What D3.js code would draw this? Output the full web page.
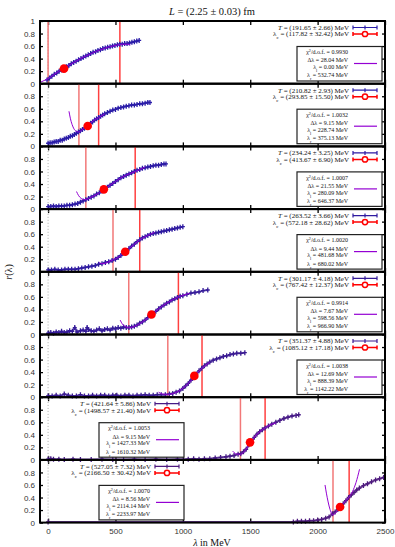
<!DOCTYPE html>
<html>
<head>
<meta charset="utf-8">
<script src="https://cdn.jsdelivr.net/npm/d3@7"></script>
<style>
  body { margin: 0; background: #fff; }
  svg { display: block; }
  .tick text { font-family: "Liberation Sans", Arial, sans-serif; font-size: 8px; fill: #333; }
  .serif { font-family: "Liberation Serif", "DejaVu Serif", serif; fill: #111; }
</style>
</head>
<body>
<svg id="chart" width="395" height="547"></svg>
<script>
// fit results per panel
const tempT   = [191.65, 210.82, 234.24, 263.52, 301.17, 351.37, 421.64, 527.05];
const tempErr = [2.66, 2.93, 3.25, 3.66, 4.18, 4.88, 5.86, 7.32];
const lamC    = [117.82, 293.85, 413.67, 572.18, 767.42, 1085.12, 1498.57, 2166.50];
const lamCErr = [32.42, 15.50, 6.90, 28.62, 12.37, 17.18, 21.40, 30.42];
const rAtC    = [0.24, 0.325, 0.315, 0.32, 0.32, 0.34, 0.28, 0.25];
const chi2    = [0.9930, 1.0032, 1.0007, 1.0020, 0.9914, 1.0038, 1.0053, 1.0070];
const dLam    = [28.04, 9.15, 21.55, 9.44, 7.67, 12.69, 9.15, 8.56];
const lamL    = [0.00, 228.74, 280.09, 481.68, 598.56, 888.39, 1427.33, 2114.14];
const lamR    = [532.74, 375.13, 646.37, 680.02, 966.90, 1142.22, 1610.32, 2233.97];
const colors  = ['#2a1ca8', '#2a1ca8', '#2c1aa4', '#2e1aa0', '#341a98', '#3a1a92', '#461a86', '#4e1a7e'];

const xTicks = [0, 500, 1000, 1500, 2000, 2500];
const yTicksFirst = [0, 0.2, 0.4, 0.6, 0.8, 1];
const yTicks = [0, 0.2, 0.4, 0.6, 0.8];

// r(lambda) measurements, [lambda, r]
const data1 = [[-8,0.06],[10,0.09],[28,0.12],[46,0.15],[64,0.17],[82,0.20],[100,0.22],[118,0.25],[136,0.27],[154,0.29],[172,0.32],[190,0.34],[208,0.36],[226,0.38],[244,0.40],[262,0.42],[280,0.44],[298,0.46],[316,0.48],[334,0.50],[352,0.51],[370,0.53],[388,0.54],[406,0.56],[424,0.57],[442,0.58],[460,0.59],[478,0.60],[496,0.61],[514,0.62],[532,0.63],[550,0.63],[568,0.64],[586,0.64],[604,0.65],[622,0.66],[640,0.67],[658,0.68],[676,0.69]];
const data2 = [[0,0.05],[15,0.06],[30,0.06],[45,0.07],[60,0.08],[75,0.08],[90,0.10],[105,0.10],[120,0.12],[135,0.13],[150,0.14],[165,0.16],[180,0.17],[195,0.19],[210,0.21],[225,0.23],[240,0.25],[255,0.27],[270,0.29],[285,0.31],[300,0.34],[315,0.37],[330,0.39],[345,0.42],[360,0.44],[375,0.46],[390,0.48],[405,0.50],[420,0.52],[440,0.54],[460,0.56],[480,0.58],[500,0.59],[520,0.61],[540,0.62],[560,0.63],[580,0.64],[600,0.65],[620,0.66],[640,0.66],[660,0.67],[680,0.68],[700,0.68],[720,0.69],[740,0.70],[756,0.70]];
const data3 = [[0,0.04],[20,0.04],[40,0.05],[60,0.04],[80,0.05],[100,0.05],[120,0.05],[140,0.06],[160,0.06],[180,0.07],[200,0.08],[220,0.09],[240,0.11],[260,0.13],[280,0.15],[300,0.17],[320,0.19],[340,0.21],[360,0.24],[380,0.26],[400,0.29],[420,0.32],[440,0.35],[460,0.38],[480,0.41],[500,0.44],[520,0.47],[540,0.50],[560,0.52],[580,0.54],[600,0.56],[620,0.58],[640,0.60],[660,0.62],[680,0.63],[700,0.65],[720,0.66],[740,0.67],[760,0.68],[780,0.69],[800,0.70],[820,0.70],[840,0.71],[860,0.72],[875,0.72]];
const data4 = [[0,0.03],[25,0.03],[50,0.04],[75,0.03],[100,0.03],[125,0.04],[150,0.04],[175,0.04],[200,0.04],[225,0.05],[250,0.06],[275,0.07],[300,0.08],[325,0.09],[350,0.10],[375,0.12],[400,0.13],[425,0.15],[450,0.16],[475,0.18],[500,0.20],[520,0.23],[540,0.26],[560,0.30],[580,0.33],[600,0.37],[620,0.41],[640,0.44],[660,0.48],[680,0.51],[700,0.54],[720,0.56],[740,0.58],[760,0.60],[780,0.61],[800,0.62],[820,0.63],[840,0.64],[860,0.65],[880,0.66],[900,0.67],[920,0.68],[940,0.69],[960,0.70],[980,0.71],[1000,0.72]];
const data5 = [[0,0.02],[20,0.03],[40,0.02],[60,0.04],[80,0.03],[100,0.05],[120,0.03],[140,0.04],[160,0.06],[180,0.05],[198,0.11],[215,0.04],[240,0.06],[260,0.07],[280,0.05],[290,0.11],[300,0.08],[320,0.06],[340,0.05],[360,0.07],[380,0.09],[400,0.06],[420,0.08],[440,0.09],[460,0.07],[480,0.10],[500,0.09],[520,0.11],[540,0.10],[560,0.12],[580,0.11],[600,0.11],[620,0.12],[640,0.13],[660,0.15],[680,0.18],[700,0.20],[720,0.23],[740,0.27],[760,0.30],[780,0.34],[800,0.37],[820,0.41],[840,0.44],[860,0.47],[880,0.50],[900,0.52],[920,0.55],[940,0.57],[960,0.59],[980,0.61],[1000,0.62],[1030,0.64],[1060,0.66],[1090,0.67],[1120,0.68],[1150,0.70],[1185,0.71]];
const data6 = [[0,0.02],[30,0.02],[60,0.03],[90,0.02],[120,0.05],[150,0.03],[180,0.02],[210,0.02],[240,0.04],[270,0.02],[300,0.02],[330,0.03],[360,0.02],[390,0.03],[420,0.03],[450,0.02],[480,0.03],[510,0.03],[540,0.02],[570,0.03],[600,0.03],[630,0.02],[660,0.03],[690,0.03],[720,0.04],[750,0.03],[780,0.03],[810,0.04],[840,0.04],[870,0.04],[900,0.05],[925,0.06],[950,0.08],[975,0.10],[1000,0.14],[1020,0.18],[1040,0.22],[1060,0.27],[1080,0.31],[1100,0.37],[1120,0.42],[1140,0.46],[1160,0.50],[1180,0.53],[1200,0.56],[1225,0.59],[1250,0.61],[1275,0.63],[1300,0.65],[1325,0.66],[1350,0.68],[1375,0.69],[1400,0.70],[1430,0.70],[1460,0.71]];
const data7 = [[0,0.01],[20,0.02],[40,0.01],[80,0.01],[120,0.005],[185,0.01],[240,0.005],[320,0.005],[400,0.01],[480,0.005],[560,0.005],[640,0.01],[720,0.005],[800,0.01],[880,0.005],[960,0.01],[1040,0.01],[1080,0.02],[1120,0.01],[1160,0.02],[1200,0.02],[1240,0.03],[1280,0.04],[1320,0.05],[1350,0.06],[1380,0.07],[1410,0.09],[1430,0.10],[1450,0.13],[1470,0.17],[1490,0.24],[1510,0.30],[1530,0.36],[1550,0.41],[1570,0.45],[1590,0.48],[1610,0.51],[1635,0.54],[1660,0.57],[1690,0.60],[1720,0.63],[1750,0.66],[1780,0.68],[1810,0.70],[1840,0.71],[1860,0.72]];
const data8 = [[0,0.01],[1820,0.01],[1850,0.02],[1880,0.02],[1910,0.02],[1940,0.03],[1970,0.03],[2000,0.04],[2030,0.05],[2060,0.07],[2085,0.09],[2110,0.14],[2130,0.17],[2150,0.21],[2170,0.25],[2190,0.30],[2210,0.35],[2230,0.40],[2250,0.44],[2270,0.48],[2290,0.52],[2310,0.55],[2340,0.59],[2370,0.62],[2400,0.65],[2430,0.68],[2460,0.70],[2490,0.72]];

// fitted curves, [lambda, r]
const fit1 = [[-60,0.02],[-30,0.05],[0,0.08],[40,0.14],[80,0.20],[120,0.25],[160,0.30],[200,0.35],[240,0.40],[280,0.44],[320,0.48],[360,0.52],[400,0.55],[440,0.58],[480,0.60],[520,0.62],[560,0.63],[590,0.63],[610,0.62]];
const fit2 = [[155,0.56],[165,0.45],[178,0.35],[192,0.28],[210,0.24],[228,0.23],[250,0.26],[275,0.30],[294,0.33],[320,0.38],[350,0.43],[375,0.46],[400,0.49],[420,0.52]];
const fit3 = [[211,0.28],[225,0.22],[245,0.17],[265,0.15],[285,0.155],[310,0.18],[340,0.21],[380,0.26],[414,0.31],[460,0.38],[500,0.44],[550,0.51],[600,0.56],[646,0.60],[690,0.64],[720,0.67]];
const fit4 = [[380,0.15],[400,0.13],[430,0.14],[460,0.17],[482,0.19],[520,0.23],[560,0.30],[600,0.37],[640,0.44],[680,0.51],[720,0.56],[760,0.60],[790,0.63]];
const fit5 = [[535,0.23],[550,0.17],[570,0.13],[598,0.11],[630,0.12],[670,0.16],[720,0.23],[767,0.31],[820,0.41],[880,0.50],[930,0.56],[967,0.60],[1010,0.63],[1050,0.66]];
const fit6 = [[820,0.08],[850,0.05],[888,0.045],[930,0.06],[970,0.10],[1010,0.16],[1050,0.24],[1085,0.32],[1120,0.42],[1142,0.46],[1170,0.51],[1200,0.56]];
const fit7 = [[1370,0.14],[1390,0.10],[1410,0.09],[1427,0.09],[1450,0.12],[1475,0.19],[1499,0.27],[1530,0.36],[1560,0.43],[1610,0.51],[1650,0.56],[1690,0.59]];
const fit8 = [[2055,0.60],[2065,0.47],[2078,0.33],[2092,0.21],[2105,0.14],[2114,0.12],[2135,0.16],[2166,0.24],[2200,0.33],[2234,0.41],[2260,0.50],[2285,0.64],[2311,0.85]];

const datasets = [data1, data2, data3, data4, data5, data6, data7, data8];
const fits = [fit1, fit2, fit3, fit4, fit5, fit6, fit7, fit8];

const svg = d3.select('#chart');
const plotLeft = 40, plotRight = 385, plotTop = 21, ph = 62.7;
const fitColor = '#9400d3';
const f2 = d3.format('.2f'), f4 = d3.format('.4f');

const x = d3.scaleLinear().domain([-60, 2500]).range([plotLeft, plotRight]);

function rich(sel, parts) {
  parts.forEach(([t, k]) => {
    const s = sel.append('tspan').text(t);
    if (k === 'i') s.attr('font-style', 'italic');
    if (k === 'sub') s.attr('baseline-shift', 'sub').attr('font-size', '70%');
    if (k === 'sup') s.attr('baseline-shift', 'super').attr('font-size', '70%');
  });
}

datasets.forEach((data, i) => {
  const y = d3.scaleLinear().domain([0, 1]).range([plotTop + ph * (i + 1), plotTop + ph * i]);
  const g = svg.append('g');
  const col = colors[i];

  // axes, ticks pointing inward
  g.append('g').attr('transform', 'translate(0,' + y(0) + ')')
    .call(d3.axisBottom(x).tickValues(xTicks).tickSize(-4).tickPadding(6)
      .tickFormat(i === 7 ? d3.format('d') : ''));
  g.append('g').attr('transform', 'translate(0,' + y(1) + ')')
    .call(d3.axisTop(x).tickValues(xTicks).tickSize(-4).tickFormat(''));
  g.append('g').attr('transform', 'translate(' + plotLeft + ',0)')
    .call(d3.axisLeft(y).tickValues(i === 0 ? yTicksFirst : yTicks).tickSize(-3).tickPadding(5)
      .tickFormat(d => d3.format('~g')(d)));
  g.append('g').attr('transform', 'translate(' + plotRight + ',0)')
    .call(d3.axisRight(y).tickValues(yTicks).tickSize(-3).tickFormat(''));
  g.selectAll('.domain').remove();
  g.selectAll('.tick line').attr('stroke', '#000').attr('stroke-width', 1.3);

  // zero line
  g.append('line')
    .attr('x1', x(0)).attr('x2', x(0)).attr('y1', y(0)).attr('y2', y(1))
    .attr('stroke', '#aaa').attr('stroke-dasharray', '1,2');

  // lambda_l and lambda_r
  g.append('line')
    .attr('x1', x(lamL[i])).attr('x2', x(lamL[i])).attr('y1', y(0)).attr('y2', y(1))
    .attr('stroke', '#f27878').attr('stroke-width', 1.5);
  g.append('line')
    .attr('x1', x(lamR[i])).attr('x2', x(lamR[i])).attr('y1', y(0)).attr('y2', y(1))
    .attr('stroke', '#ff4040').attr('stroke-width', 1.5);

  // data band + crosses
  g.append('path').datum(data)
    .attr('fill', 'none').attr('stroke', col).attr('stroke-width', 2).attr('stroke-opacity', 0.85)
    .attr('d', d3.line().x(d => x(d[0])).y(d => y(d[1])));
  const pts = g.selectAll('.pt').data(data).enter().append('g')
    .attr('transform', d => 'translate(' + x(d[0]) + ',' + y(d[1]) + ')');
  pts.append('path').attr('d', 'M-2,0H2M0,-2.5V2.5')
    .attr('stroke', col).attr('stroke-width', 1.3);

  // fit
  g.append('path').datum(fits[i])
    .attr('fill', 'none').attr('stroke', fitColor).attr('stroke-width', 1)
    .attr('d', d3.line().curve(d3.curveMonotoneX).x(d => x(d[0])).y(d => y(d[1])));

  // lambda_c
  const cy = y(rAtC[i]);
  g.append('path')
    .attr('d', 'M' + x(lamC[i] - lamCErr[i]) + ',' + cy + 'H' + x(lamC[i] + lamCErr[i]))
    .attr('stroke', '#ff0000').attr('stroke-width', 1.5);
  g.append('circle').attr('cx', x(lamC[i])).attr('cy', cy).attr('r', 4.3).attr('fill', '#ff0000');

  // border
  g.append('rect')
    .attr('x', plotLeft).attr('y', y(1)).attr('width', plotRight - plotLeft).attr('height', y(0) - y(1))
    .attr('fill', 'none').attr('stroke', '#000').attr('stroke-width', 2);

  // legend
  const shift = lamC[i] > 1300 ? -198 : 0;
  const tx = 349 + shift, lx1 = 353 + shift, lx2 = 377 + shift;
  const t0 = y(1);

  const l1 = g.append('text').attr('class', 'serif').attr('x', tx).attr('y', t0 + 6.5)
    .attr('text-anchor', 'end').attr('dy', '0.35em').attr('font-size', 7);
  rich(l1, [['T', 'i'], [' = (' + f2(tempT[i]) + ' \u00b1 ' + f2(tempErr[i]) + ') MeV', '']]);
  g.append('path')
    .attr('d', 'M' + lx1 + ',' + (t0 + 6.5) + 'H' + lx2 +
      'M' + lx1 + ',' + (t0 + 4.5) + 'V' + (t0 + 8.5) +
      'M' + lx2 + ',' + (t0 + 4.5) + 'V' + (t0 + 8.5) +
      'M' + ((lx1 + lx2) / 2) + ',' + (t0 + 4.5) + 'V' + (t0 + 8.5))
    .attr('stroke', col).attr('stroke-width', 1.2).attr('fill', 'none');

  const l2 = g.append('text').attr('class', 'serif').attr('x', tx).attr('y', t0 + 13)
    .attr('text-anchor', 'end').attr('dy', '0.35em').attr('font-size', 7);
  rich(l2, [['\u03bb', ''], ['c', 'sub'], [' = (' + f2(lamC[i]) + ' \u00b1 ' + f2(lamCErr[i]) + ') MeV', '']]);
  g.append('path')
    .attr('d', 'M' + lx1 + ',' + (t0 + 13) + 'H' + lx2 +
      'M' + lx1 + ',' + (t0 + 11) + 'V' + (t0 + 15) +
      'M' + lx2 + ',' + (t0 + 11) + 'V' + (t0 + 15))
    .attr('stroke', '#ff0000').attr('stroke-width', 1.5).attr('fill', 'none');
  g.append('circle').attr('cx', (lx1 + lx2) / 2).attr('cy', t0 + 13).attr('r', 2.6)
    .attr('fill', '#fff').attr('stroke', '#ff0000').attr('stroke-width', 1.5);

  // fit info box
  g.append('rect')
    .attr('x', 297 + shift).attr('y', t0 + 25.5).attr('width', 85).attr('height', 34.5)
    .attr('fill', '#fff').attr('stroke', '#222').attr('stroke-width', 1.2);
  const boxLines = [
    [['\u03c7', ''], ['2', 'sup'], ['/d.o.f. = ' + f4(chi2[i]), '']],
    [['\u0394\u03bb = ' + f2(dLam[i]) + ' MeV', '']],
    [['\u03bb', ''], ['l', 'sub'], [' = ' + f2(lamL[i]) + ' MeV', '']],
    [['\u03bb', ''], ['r', 'sub'], [' = ' + f2(lamR[i]) + ' MeV', '']]
  ];
  const boxY = [31, 39.3, 46, 54.3];
  boxLines.forEach((parts, k) => {
    const t = g.append('text').attr('class', 'serif').attr('x', 348 + shift).attr('y', t0 + boxY[k])
      .attr('text-anchor', 'end').attr('dy', '0.35em').attr('font-size', 6);
    rich(t, parts);
  });
  g.append('line')
    .attr('x1', 354 + shift).attr('x2', 377 + shift).attr('y1', t0 + 42.5).attr('y2', t0 + 42.5)
    .attr('stroke', fitColor).attr('stroke-width', 1.2);
});

// title and axis labels
const title = svg.append('text').attr('class', 'serif').attr('x', 212).attr('y', 15)
  .attr('text-anchor', 'middle').attr('font-size', 10.5);
rich(title, [['L', 'i'], [' = (2.25 \u00b1 0.03) fm', '']]);

const xl = svg.append('text').attr('class', 'serif').attr('x', 212).attr('y', 546)
  .attr('text-anchor', 'middle').attr('font-size', 10);
rich(xl, [['\u03bb', 'i'], [' in MeV', '']]);

const yl = svg.append('text').attr('class', 'serif')
  .attr('transform', 'translate(12,272) rotate(-90)')
  .attr('text-anchor', 'middle').attr('font-size', 10);
rich(yl, [['r', 'i'], ['(\u03bb)', '']]);
</script>
</body>
</html>
